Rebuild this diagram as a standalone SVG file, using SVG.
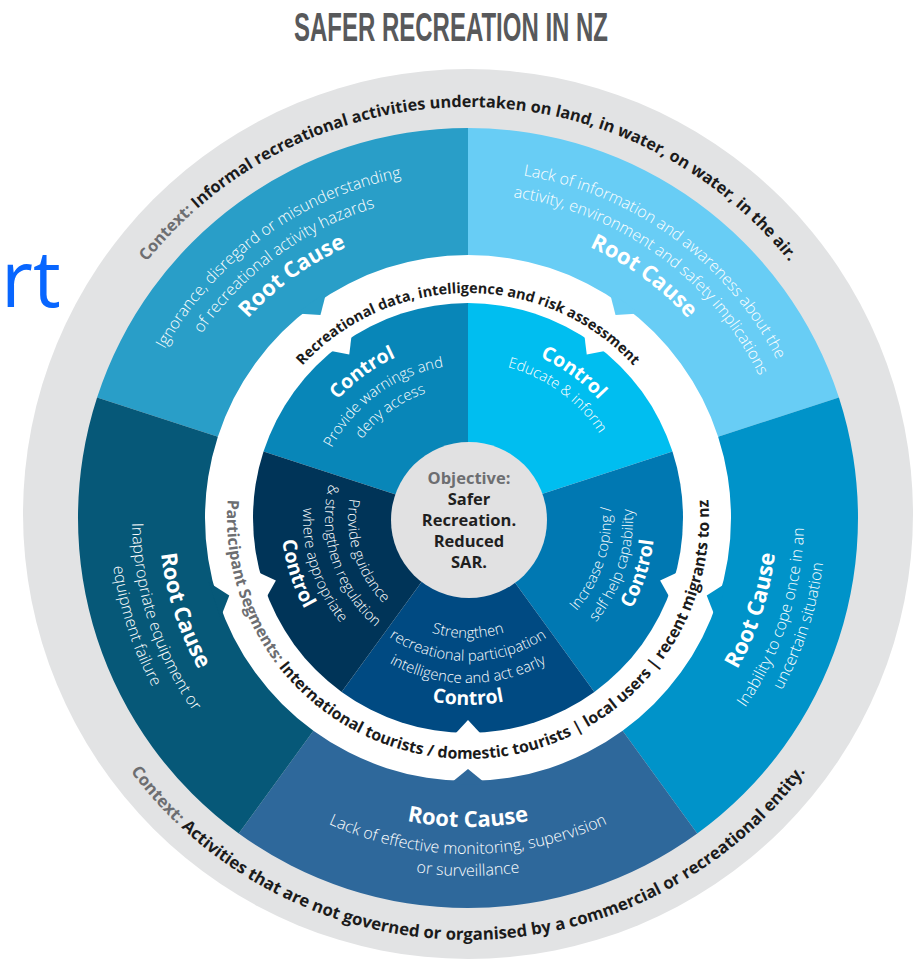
<svg xmlns="http://www.w3.org/2000/svg" width="924" height="963" viewBox="0 0 924 963">
<style>
.t{font-family:"Open Sans","Liberation Sans",sans-serif}
.ctx{font-size:16.3px;font-weight:700;fill:#1b1b1b}
.ctxb{font-size:16.8px}
.gr{fill:#6d6e71}
.band{font-size:14.5px;font-weight:700;fill:#1b1b1b}
.bandb{font-size:15.9px}
.rc{font-size:22px;font-weight:700;fill:#fff}
.rd{font-size:16px;font-weight:300;fill:#fff}
.cc{font-size:19.5px;font-weight:700;fill:#fff}
.cd{font-size:14.8px;font-weight:300;fill:#fff}
.obj{font-size:16.5px;font-weight:700;fill:#1f1f1f;text-anchor:middle}
</style>
<defs>
<path id="o411" d="M-386.21 -140.57A411 411 0 0 1 386.21 -140.57"/>
<path id="o347" d="M-326.07 -118.68A347 347 0 0 1 326.07 -118.68"/>
<path id="o324" d="M-304.46 -110.81A324 324 0 0 1 304.46 -110.81"/>
<path id="o297" d="M-279.09 -101.58A297 297 0 0 1 279.09 -101.58"/>
<path id="o225" d="M-211.43 -76.95A225 225 0 0 1 211.43 -76.95"/>
<path id="o176" d="M-165.39 -60.2A176 176 0 0 1 165.39 -60.2"/>
<path id="o156" d="M-146.59 -53.36A156 156 0 0 1 146.59 -53.36"/>
<path id="o153" d="M-143.77 -52.33A153 153 0 0 1 143.77 -52.33"/>
<path id="o132" d="M-124.04 -45.15A132 132 0 0 1 124.04 -45.15"/>
<path id="i422" d="M-396.55 144.33A422 422 0 0 0 396.55 144.33"/>
<path id="i358" d="M-336.41 122.44A358 358 0 0 0 336.41 122.44"/>
<path id="i336" d="M-315.74 114.92A336 336 0 0 0 315.74 114.92"/>
<path id="i309" d="M-290.36 105.68A309 309 0 0 0 290.36 105.68"/>
<path id="i187" d="M-175.72 63.96A187 187 0 0 0 175.72 63.96"/>
<path id="i165" d="M-155.05 56.43A165 165 0 0 0 155.05 56.43"/>
<path id="i143" d="M-134.38 48.91A143 143 0 0 0 134.38 48.91"/>
<path id="i120" d="M-112.76 41.04A120 120 0 0 0 112.76 41.04"/>
<path id="band241" d="M-226.47 -82.43A241 241 0 1 0 226.47 -82.43"/>
</defs>

<rect width="924" height="963" fill="#fff"/>

<text id="fragment" class="t" x="1" y="307" font-size="78" fill="#0866ff">rt</text>

<g id="title">
<text x="451" y="41" font-family="Liberation Sans, Arial, sans-serif" font-weight="700" font-size="41" fill="#58595b" text-anchor="middle" textLength="314" lengthAdjust="spacingAndGlyphs">SAFER RECREATION IN NZ</text>
</g>

<g id="context-ring">
<circle cx="468" cy="514" r="445" fill="#e2e3e4"/>
<g transform="translate(468,518)" class="t ctx" text-anchor="middle">
<text><textPath href="#o411" startOffset="50%"><tspan class="gr">Context:</tspan> Informal recreational activities undertaken on land, in water, on water, in the air.</textPath></text>
<text class="ctxb"><textPath href="#i422" startOffset="50%"><tspan class="gr">Context:</tspan> Activities that are not governed or organised by a commercial or recreational entity.</textPath></text>
</g>
</g>

<circle id="band-base" cx="468" cy="518" r="264" fill="#fff"/>

<g id="rootcause-ignorance">
<path d="M97.09 397.48A390 390 0 0 1 468 128L468 255A263 263 0 0 0 217.87 436.73Z" fill="#299ec8"/>
<polygon points="296.38,313.47 320.46,314.94 326.51,291.57" fill="#299ec8"/>
<g transform="translate(468,518) rotate(-36)" class="t" text-anchor="middle">
<text class="rd"><textPath href="#o347" startOffset="50%">Ignorance, disregard or misunderstanding</textPath></text>
<text class="rd"><textPath href="#o324" startOffset="50%">of recreational activity hazards</textPath></text>
<text class="rc"><textPath href="#o297" startOffset="50%">Root Cause</textPath></text>
</g>
</g>

<g id="rootcause-information">
<path d="M468 128A390 390 0 0 1 838.91 397.48L718.13 436.73A263 263 0 0 0 468 255Z" fill="#68cdf5"/>
<polygon points="639.62,313.47 615.54,314.94 609.49,291.57" fill="#68cdf5"/>
<g transform="translate(468,518) rotate(36)" class="t" text-anchor="middle">
<text class="rd"><textPath href="#o347" startOffset="50%">Lack of information and awareness about the</textPath></text>
<text class="rd"><textPath href="#o324" startOffset="50%">activity, environment and safety implications</textPath></text>
<text class="rc"><textPath href="#o297" startOffset="50%">Root Cause</textPath></text>
</g>
</g>

<g id="rootcause-coping">
<path d="M838.91 397.48A390 390 0 0 1 697.24 833.52L622.59 730.77A263 263 0 0 0 718.13 436.73Z" fill="#0093c9"/>
<polygon points="727.07,582.59 706.72,595.56 715.56,618.02" fill="#0093c9"/>
<g transform="translate(468,518) rotate(-72)" class="t" text-anchor="middle">
<text class="rc"><textPath href="#i309" startOffset="50%">Root Cause</textPath></text>
<text class="rd"><textPath href="#i336" startOffset="50%">Inability to cope once in an</textPath></text>
<text class="rd"><textPath href="#i358" startOffset="50%">uncertain situation</textPath></text>
</g>
</g>

<g id="rootcause-monitoring">
<path d="M697.24 833.52A390 390 0 0 1 238.76 833.52L313.41 730.77A263 263 0 0 0 622.59 730.77Z" fill="#2e689b"/>
<polygon points="486.63,784.35 468,769 449.37,784.35" fill="#2e689b"/>
<g transform="translate(468,518)" class="t" text-anchor="middle">
<text class="rc"><textPath href="#i309" startOffset="50%">Root Cause</textPath></text>
<text class="rd"><textPath href="#i336" startOffset="50%">Lack of effective monitoring, supervision</textPath></text>
<text class="rd"><textPath href="#i358" startOffset="50%">or surveillance</textPath></text>
</g>
</g>

<g id="rootcause-equipment">
<path d="M238.76 833.52A390 390 0 0 1 97.09 397.48L217.87 436.73A263 263 0 0 0 313.41 730.77Z" fill="#065878"/>
<polygon points="208.93,582.59 229.28,595.56 220.44,618.02" fill="#065878"/>
<g transform="translate(468,518) rotate(72)" class="t" text-anchor="middle">
<text class="rc"><textPath href="#i309" startOffset="50%">Root Cause</textPath></text>
<text class="rd"><textPath href="#i336" startOffset="50%">Inappropriate equipment or</textPath></text>
<text class="rd"><textPath href="#i358" startOffset="50%">equipment failure</textPath></text>
</g>
</g>

<g id="control-warnings">
<path d="M468 518L263.52 451.56A215 215 0 0 1 468 303Z" fill="#0886b8"/>
<g transform="translate(468,518) rotate(-36)" class="t" text-anchor="middle">
<text class="cc"><textPath href="#o176" startOffset="50%">Control</textPath></text>
<text class="cd"><textPath href="#o153" startOffset="50%">Provide warnings and</textPath></text>
<text class="cd"><textPath href="#o132" startOffset="50%">deny access</textPath></text>
</g>
</g>

<g id="control-educate">
<path d="M468 518L468 303A215 215 0 0 1 672.48 451.56Z" fill="#00bef0"/>
<g transform="translate(468,518) rotate(36)" class="t" text-anchor="middle">
<text class="cc"><textPath href="#o176" startOffset="50%">Control</textPath></text>
<text class="cd"><textPath href="#o156" startOffset="50%">Educate &amp; inform</textPath></text>
</g>
</g>

<g id="control-coping">
<path d="M468 518L672.48 451.56A215 215 0 0 1 594.37 691.94Z" fill="#0078b2"/>
<g transform="translate(468,518) rotate(-72)" class="t" text-anchor="middle">
<text class="cd"><textPath href="#i143" startOffset="50%">Increase coping /</textPath></text>
<text class="cd"><textPath href="#i165" startOffset="50%">self help capability</textPath></text>
<text class="cc"><textPath href="#i187" startOffset="50%">Control</textPath></text>
</g>
</g>

<g id="control-intelligence">
<path d="M468 518L594.37 691.94A215 215 0 0 1 341.63 691.94Z" fill="#004a82"/>
<g transform="translate(468,518)" class="t" text-anchor="middle">
<text class="cd"><textPath href="#i120" startOffset="50%">Strengthen</textPath></text>
<text class="cd"><textPath href="#i143" startOffset="50%">recreational participation</textPath></text>
<text class="cd"><textPath href="#i165" startOffset="50%">intelligence and act early</textPath></text>
<text class="cc"><textPath href="#i187" startOffset="50%">Control</textPath></text>
</g>
</g>

<g id="control-guidance">
<path d="M468 518L341.63 691.94A215 215 0 0 1 263.52 451.56Z" fill="#003458"/>
<g transform="translate(468,518) rotate(72)" class="t" text-anchor="middle">
<text class="cd"><textPath href="#i120" startOffset="50%">Provide guidance</textPath></text>
<text class="cd"><textPath href="#i143" startOffset="50%">&amp; strengthen regulation</textPath></text>
<text class="cd"><textPath href="#i165" startOffset="50%">where appropriate</textPath></text>
<text class="cc"><textPath href="#i187" startOffset="50%">Control</textPath></text>
</g>
</g>

<g id="band" fill="#fff">
<polygon points="327.23,350.24 349.27,354.58 351.95,332.28"/>
<polygon points="608.77,350.24 586.73,354.58 584.05,332.28"/>
<polygon points="680.5,570.98 660.11,580.42 671.05,600.04"/>
<polygon points="483.28,736.47 468,720 452.72,736.47"/>
<polygon points="255.5,570.98 275.89,580.42 264.95,600.04"/>
<g transform="translate(468,518)" class="t band" text-anchor="middle">
<text><textPath href="#o225" startOffset="50%">Recreational data, intelligence and risk assessment</textPath></text>
<text class="bandb"><textPath href="#band241" startOffset="50%"><tspan class="gr">Participant Segments:</tspan> International tourists / domestic tourists | local users | recent migrants to nz</textPath></text>
</g>
</g>

<g id="objective">
<circle cx="469" cy="520" r="78" fill="#e1e1e2"/>
<text class="t obj" x="469" y="484"><tspan class="gr">Objective:</tspan></text>
<text class="t obj" x="469" y="505">Safer</text>
<text class="t obj" x="469" y="526">Recreation.</text>
<text class="t obj" x="469" y="547">Reduced</text>
<text class="t obj" x="469" y="568">SAR.</text>
</g>
</svg>
